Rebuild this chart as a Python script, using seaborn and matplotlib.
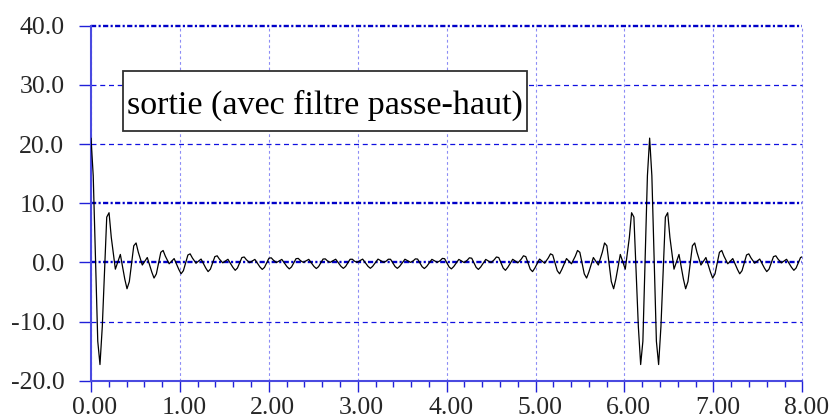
import matplotlib
matplotlib.use("Agg")
import matplotlib.pyplot as plt
import matplotlib.transforms as mtransforms
from matplotlib.patches import Rectangle
from matplotlib.ticker import MultipleLocator, FormatStrFormatter, FixedLocator
import pandas as pd
import seaborn as sns

# ---- data (points along the oscillations) ----
t_part1 = [0.000, 0.025, 0.076, 0.101, 0.127, 0.177, 0.203, 0.228, 0.274, 0.330,
           0.380, 0.405, 0.431, 0.481, 0.507, 0.532, 0.577, 0.633, 0.684, 0.709,
           0.735, 0.785, 0.811, 0.836, 0.879, 0.935, 0.988, 1.013, 1.039, 1.090,
           1.115, 1.140, 1.181, 1.238, 1.292, 1.317, 1.343, 1.393, 1.419, 1.444,
           1.482, 1.540, 1.596, 1.622, 1.647, 1.697, 1.723, 1.748, 1.784, 1.843,
           1.900, 1.926, 1.951, 2.001, 2.027, 2.052, 2.086, 2.146, 2.204, 2.230,
           2.255, 2.306, 2.331, 2.356, 2.388, 2.449, 2.508, 2.534, 2.559, 2.610,
           2.635, 2.660, 2.689, 2.752, 2.812, 2.838, 2.863, 2.914, 2.939, 2.964,
           2.991, 3.055, 3.116, 3.142]
y_part1 = [21.00, 14.65, -13.33, -17.27, -10.85, 7.65, 8.39, 4.23, -1.15, 1.34,
           -2.83, -4.46, -3.25, 2.80, 3.28, 1.72, -0.45, 0.82, -1.65, -2.65,
           -1.95, 1.70, 2.01, 1.05, -0.24, 0.64, -1.20, -1.93, -1.41, 1.25,
           1.44, 0.75, -0.14, 0.56, -0.99, -1.56, -1.14, 0.97, 1.11, 0.55,
           -0.08, 0.52, -0.85, -1.34, -0.96, 0.81, 0.91, 0.44, -0.05, 0.50,
           -0.78, -1.19, -0.85, 0.70, 0.77, 0.36, -0.03, 0.50, -0.72, -1.10,
           -0.78, 0.62, 0.67, 0.29, 0.00, 0.51, -0.69, -1.04, -0.73, 0.56,
           0.59, 0.24, 0.00, 0.53, -0.68, -1.01, -0.70, 0.52, 0.53, 0.20,
           0.00, 0.55, -0.68, -1.00]

t_part2 = [3.167, 3.228, 3.292, 3.319, 3.344, 3.369, 3.420, 3.445, 3.471, 3.531,
           3.594, 3.623, 3.648, 3.673, 3.724, 3.749, 3.775, 3.834, 3.895, 3.927,
           3.952, 3.977, 4.028, 4.053, 4.079, 4.137, 4.197, 4.231, 4.256, 4.282,
           4.332, 4.357, 4.383, 4.440, 4.499, 4.535, 4.560, 4.586, 4.636, 4.661,
           4.687, 4.743, 4.801, 4.839, 4.864, 4.890, 4.940, 4.966, 4.991, 5.045,
           5.102, 5.143, 5.168, 5.193, 5.244, 5.270, 5.295, 5.348, 5.404, 5.447,
           5.472, 5.498, 5.548, 5.574, 5.599, 5.650, 5.706, 5.751, 5.776, 5.802,
           5.852, 5.878, 5.903, 5.953, 6.009, 6.055, 6.080, 6.106, 6.156, 6.182,
           6.207, 6.258, 6.283]
y_part2 = [-0.68, 0.55, 0.00, 0.20, 0.53, 0.52, -0.70, -1.01, -0.68, 0.53,
           0.00, 0.24, 0.59, 0.56, -0.73, -1.04, -0.69, 0.51, 0.00, 0.29,
           0.67, 0.62, -0.78, -1.10, -0.72, 0.50, -0.03, 0.36, 0.77, 0.70,
           -0.85, -1.19, -0.78, 0.50, -0.05, 0.44, 0.91, 0.81, -0.96, -1.34,
           -0.85, 0.52, -0.08, 0.55, 1.11, 0.97, -1.14, -1.56, -0.99, 0.56,
           -0.14, 0.75, 1.44, 1.25, -1.41, -1.93, -1.20, 0.64, -0.24, 1.05,
           2.01, 1.70, -1.95, -2.65, -1.65, 0.82, -0.45, 1.72, 3.28, 2.80,
           -3.25, -4.46, -2.83, 1.34, -1.15, 4.23, 8.39, 7.65, -10.85, -17.27,
           -13.33, 14.65, 21.00]

t_part3 = [6.308, 6.359, 6.384, 6.410, 6.460, 6.486, 6.511, 6.557, 6.613, 6.663,
           6.688, 6.714, 6.764, 6.790, 6.815, 6.860, 6.916, 6.967, 6.992, 7.018,
           7.068, 7.094, 7.119, 7.162, 7.218, 7.271, 7.296, 7.322, 7.373, 7.398,
           7.423, 7.464, 7.521, 7.575, 7.600, 7.626, 7.676, 7.702, 7.727, 7.765,
           7.823, 7.879, 7.905, 7.930, 7.980, 8.000]
y_part3 = [14.65, -13.33, -17.27, -10.85, 7.65, 8.39, 4.23, -1.15, 1.34, -2.83,
           -4.46, -3.25, 2.80, 3.28, 1.72, -0.45, 0.82, -1.65, -2.65, -1.95,
           1.70, 2.01, 1.05, -0.24, 0.64, -1.20, -1.93, -1.41, 1.25, 1.44,
           0.75, -0.14, 0.56, -0.99, -1.56, -1.14, 0.97, 1.11, 0.55, -0.08,
           0.52, -0.85, -1.34, -0.96, 0.81, 0.95]

x_ticks = [0, 1, 2, 3, 4, 5, 6, 7, 8]
y_ticks = [-20, -10, 0, 10, 20, 30, 40]
bold_levels = [0, 10, 40]
box_label = "sortie (avec filtre passe-haut)"

# ---- style ----
sns.set_style("white")
plt.rcParams["font.family"] = ["Liberation Serif", "DejaVu Serif"]

W, H = 835, 419
fig = plt.figure(figsize=(W / 100, H / 100), dpi=100)
ax_left, ax_right, ax_top, ax_bottom = 91.0, 802.3, 25.7, 380.7
ax = fig.add_axes([ax_left / W, 1 - ax_bottom / H,
                   (ax_right - ax_left) / W, (ax_bottom - ax_top) / H])

df = pd.DataFrame({"t": t_part1 + t_part2 + t_part3,
                   "y": y_part1 + y_part2 + y_part3})
sns.lineplot(data=df, x="t", y="y", ax=ax, color="black", linewidth=0.9,
             estimator=None, sort=False, zorder=3)

ax.set_xlim(0, 8)
ax.set_ylim(-20, 40)
ax.set_xlabel("")
ax.set_ylabel("")

# ticks
ax.xaxis.set_major_locator(FixedLocator(x_ticks))
ax.yaxis.set_major_locator(FixedLocator(y_ticks))
ax.xaxis.set_minor_locator(MultipleLocator(0.2))
ax.xaxis.set_major_formatter(FormatStrFormatter("%.2f"))
ax.yaxis.set_major_formatter(FormatStrFormatter("%.1f"))

tick_col = "#2020d8"
ax.tick_params(axis="y", which="major", direction="out", length=8.6, width=1.0,
               color=tick_col, pad=10.5, labelsize=18.5, left=True)
ax.tick_params(axis="x", which="major", direction="out", length=8.0, width=1.0,
               color=tick_col, pad=4.0, labelsize=18.5, bottom=True)
ax.tick_params(axis="x", which="minor", direction="out", length=4.0, width=1.0,
               color=tick_col, bottom=True)

# spines
for side in ["top", "right"]:
    ax.spines[side].set_visible(False)
for side in ["left", "bottom"]:
    ax.spines[side].set_visible(True)
    ax.spines[side].set_color("#4a4ae0")
    ax.spines[side].set_linewidth(1.5)

# vertical grid
ax.grid(axis="x", which="major", color="#8c8cf5", linestyle=(0, (2.5, 2.5)),
        linewidth=0.8)
for gl in ax.get_xgridlines():
    gl.set_clip_on(False)
ax.set_axisbelow(True)

# horizontal grid lines
for yv in y_ticks:
    if yv == -20:
        continue
    if yv in bold_levels:
        ax.axhline(yv, color="#0000c8", linewidth=1.7,
                   linestyle=(0, (2.2, 1.0, 0.9, 1.0)), zorder=1, clip_on=False)
    else:
        ax.axhline(yv, color="#1010e0", linewidth=0.9,
                   linestyle=(0, (4.0, 3.0)), zorder=1, clip_on=False)

# shift x tick labels slightly right as in the reference
offset = mtransforms.ScaledTranslation(4 / 100, 0, fig.dpi_scale_trans)
for lab in ax.get_xticklabels():
    lab.set_transform(lab.get_transform() + offset)

# label box
bx0 = (122.7 - ax_left) / (ax_right - ax_left)
bx1 = (526.7 - ax_left) / (ax_right - ax_left)
by0 = (ax_bottom - 131.0) / (ax_bottom - ax_top)
by1 = (ax_bottom - 71.0) / (ax_bottom - ax_top)
ax.add_patch(Rectangle((bx0, by0), bx1 - bx0, by1 - by0, transform=ax.transAxes,
                       facecolor="white", edgecolor="#303030", linewidth=1.3,
                       zorder=4))
ax.text((bx0 + bx1) / 2, (ax_bottom - 113.3) / (ax_bottom - ax_top), box_label,
        transform=ax.transAxes, ha="center", va="baseline", fontsize=24.5,
        color="black", zorder=5)

fig.savefig("out.png", dpi=100)
